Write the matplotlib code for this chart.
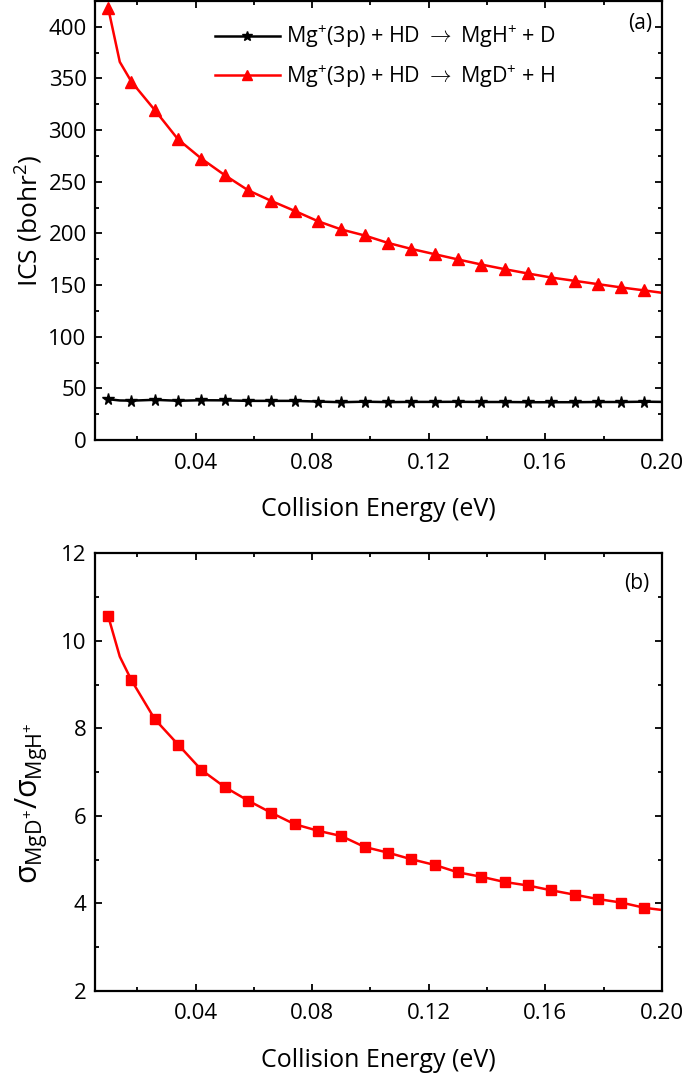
import numpy as np
import matplotlib
matplotlib.use("Agg")
import matplotlib.pyplot as plt
from matplotlib.ticker import MultipleLocator, FormatStrFormatter

plt.rcParams["font.family"] = ["Open Sans", "DejaVu Sans"]
plt.rcParams["mathtext.fontset"] = "custom"
plt.rcParams["mathtext.rm"] = "Open Sans"
plt.rcParams["mathtext.it"] = "Open Sans"

# collision energies of the marked points (eV)
energy = [0.010, 0.018, 0.026, 0.034, 0.042, 0.050, 0.058, 0.066, 0.074, 0.082, 0.090, 0.098,
          0.106, 0.114, 0.122, 0.130, 0.138, 0.146, 0.154, 0.162, 0.170, 0.178, 0.186, 0.194]

# ICS values (bohr^2)
ics_mgh = [39.5, 38.1, 38.9, 38.0, 38.5, 38.4, 37.9, 37.9, 37.9, 37.2, 36.6, 37.1,
           36.7, 36.9, 36.9, 37.0, 36.8, 36.8, 36.6, 36.6, 36.6, 36.8, 36.8, 37.1]
ics_mgd = [418.5, 346.8, 319.4, 291.0, 272.4, 256.4, 241.8, 231.4, 221.8, 211.8, 203.8, 198.0,
           190.8, 185.0, 179.9, 174.8, 169.9, 165.4, 161.2, 157.3, 154.1, 150.9, 147.7, 144.8]

# branching ratio sigma(MgD+)/sigma(MgH+)
ratio = [10.57, 9.10, 8.21, 7.63, 7.05, 6.66, 6.35, 6.07, 5.81, 5.66, 5.54, 5.29,
         5.16, 5.01, 4.88, 4.71, 4.61, 4.49, 4.41, 4.30, 4.20, 4.10, 4.02, 3.90]

# extra points on the drawn curves (kink after the first point, end at 0.20 eV)
kink_e, end_e = 0.014, 0.200
mgd_kink, mgd_end = 366.0, 142.5
mgh_kink, mgh_end = 38.3, 36.9
ratio_kink, ratio_end = 9.64, 3.85

line_e = [energy[0], kink_e] + energy[1:] + [end_e]
line_mgh = [ics_mgh[0], mgh_kink] + ics_mgh[1:] + [mgh_end]
line_mgd = [ics_mgd[0], mgd_kink] + ics_mgd[1:] + [mgd_end]
line_ratio = [ratio[0], ratio_kink] + ratio[1:] + [ratio_end]

fig = plt.figure(figsize=(6.85, 10.79), dpi=100)
ax1 = fig.add_axes([0.1387, 0.5922, 0.8277, 0.4069])
ax2 = fig.add_axes([0.1387, 0.0816, 0.8277, 0.4056])

# panel (a)
ax1.plot(line_e, line_mgh, color="black", lw=1.8, zorder=2)
ax1.plot(energy, ics_mgh, ls="none", marker="*", ms=8.5, color="black", zorder=3)
ax1.plot(line_e, line_mgd, color="red", lw=1.8, zorder=2)
ax1.plot(energy, ics_mgd, ls="none", marker="^", ms=8, color="red", zorder=3)

# legend proxies
h1, = ax1.plot([], [], color="black", lw=1.8, marker="*", ms=7.5)
h2, = ax1.plot([], [], color="red", lw=1.8, marker="^", ms=7)
ax1.legend([h1, h2],
           [r"Mg$^{+}$(3p) + HD $\rightarrow$ MgH$^{+}$ + D",
            r"Mg$^{+}$(3p) + HD $\rightarrow$ MgD$^{+}$ + H"],
           loc="upper left", bbox_to_anchor=(0.185, 0.982), frameon=False, fontsize=15.5,
           handlelength=3.0, handletextpad=0.3, labelspacing=0.6, borderaxespad=0.3)

ax1.set_xlim(0.0055, 0.20)
ax1.set_ylim(0, 425)
ax1.yaxis.set_major_locator(MultipleLocator(50))
ax1.yaxis.set_minor_locator(MultipleLocator(25))
ax1.set_ylabel("ICS (bohr$^{2}$)", fontsize=19)
ax1.yaxis.set_label_coords(-0.088, 0.5)
ax1.set_xlabel("Collision Energy (eV)", fontsize=18, labelpad=17)
ax1.text(0.961, 0.948, "(a)", transform=ax1.transAxes, ha="center", va="center", fontsize=15)

# panel (b)
ax2.plot(line_e, line_ratio, color="red", lw=1.8, zorder=2)
ax2.plot(energy, ratio, ls="none", marker="s", ms=6.5, color="red", zorder=3)
ax2.set_xlim(0.0055, 0.20)
ax2.set_ylim(2, 12)
ax2.yaxis.set_major_locator(MultipleLocator(2))
ax2.yaxis.set_minor_locator(MultipleLocator(1))
ax2.set_ylabel(r"$\sigma_{\mathrm{MgD^{+}}}/\sigma_{\mathrm{MgH^{+}}}$", fontsize=22)
ax2.yaxis.set_label_coords(-0.079, 0.43)
ax2.set_xlabel("Collision Energy (eV)", fontsize=18, labelpad=17)
ax2.text(0.956, 0.932, "(b)", transform=ax2.transAxes, ha="center", va="center", fontsize=15)

for ax in (ax1, ax2):
    ax.xaxis.set_major_locator(MultipleLocator(0.04))
    ax.xaxis.set_minor_locator(MultipleLocator(0.02))
    ax.xaxis.set_major_formatter(FormatStrFormatter("%.2f"))
    ax.tick_params(which="both", direction="in", top=True, right=True, labelsize=16, width=1.3)
    ax.tick_params(which="major", length=5, pad=6)
    ax.tick_params(axis="x", which="major", pad=9)
    ax.tick_params(which="minor", length=3)
    for s in ax.spines.values():
        s.set_linewidth(1.6)

fig.savefig("out.png", dpi=100)
